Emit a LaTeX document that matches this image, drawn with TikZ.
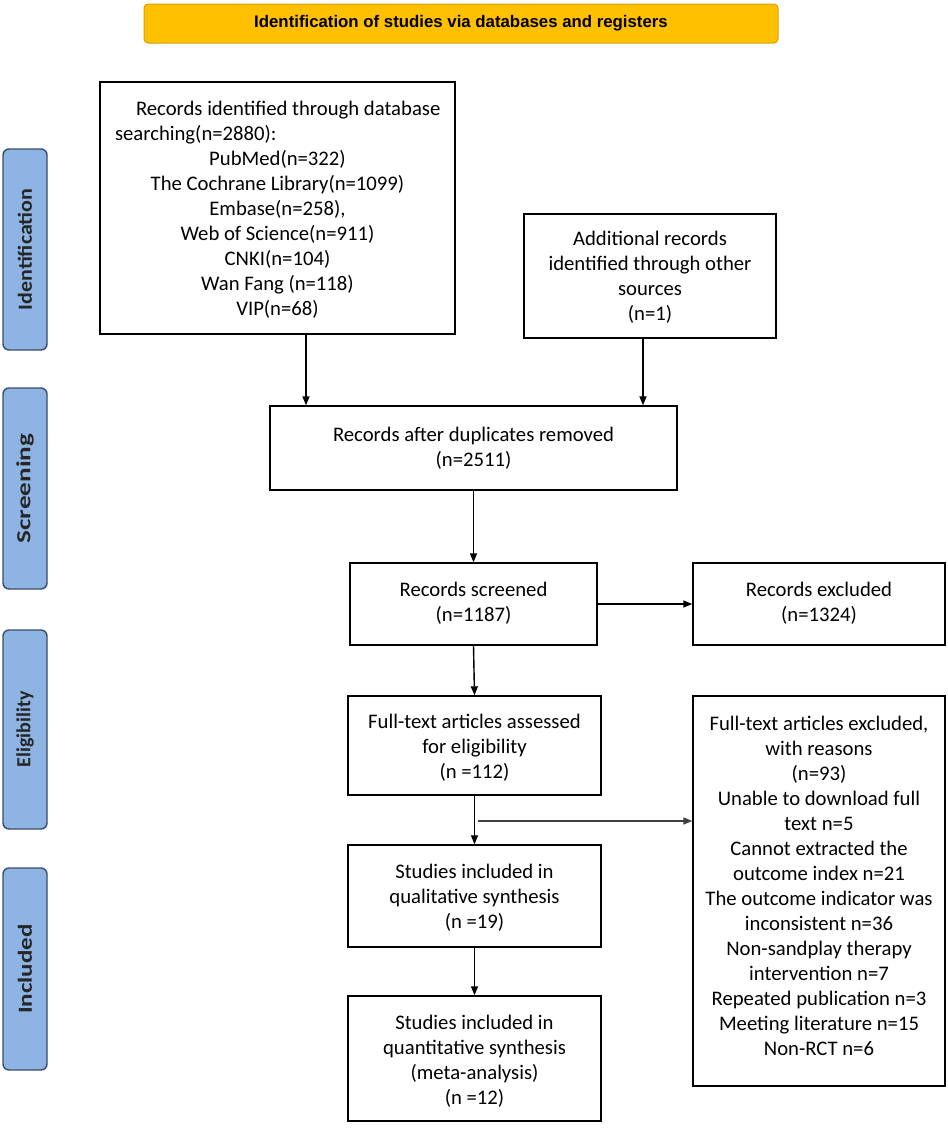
\documentclass[tikz,border=0pt]{standalone}
\usepackage{fontspec}
\setmainfont{Carlito}
\newfontfamily\arialfont{Liberation Sans}
\usetikzlibrary{arrows.meta,calc}
\definecolor{gold}{HTML}{FFC000}
\definecolor{goldline}{HTML}{D9A300}
\definecolor{sideblue}{HTML}{8DB4E2}
\definecolor{sideline}{HTML}{3A4E6B}
\begin{document}
\begin{tikzpicture}[x=1pt,y=-1pt,
  box/.style={draw=black,line width=1.4pt,fill=white,inner sep=0pt},
  txt/.style={align=center,font=\fontsize{20.7}{25}\selectfont,inner sep=0pt},
  side/.style={draw=sideline,line width=1.4pt,fill=sideblue,rounded corners=6pt,minimum width=44pt,inner sep=0pt},
  sidetxt/.style={rotate=90,font=\fontsize{20}{22}\selectfont\bfseries,text=black!85},
  arr/.style={line width=1.4pt,-{Triangle[length=9pt,width=7pt]}}]
\useasboundingbox (0,0) rectangle (948,1128);
% title
\node[draw=goldline,line width=1pt,fill=gold,rounded corners=4pt,minimum width=634pt,minimum height=39pt,inner sep=0pt,
  font=\arialfont\fontsize{16.8}{19}\selectfont\bfseries] (title) at (461,23.5) {Identification of studies via databases and registers};
% side labels
\node[side,minimum height=201pt] (s1) at (25,249.5) {};
\node[sidetxt,xscale=1.1] (s1t) at (s1) {Identification};
\node[side,minimum height=201pt] (s2) at (25,488.5) {};
\node[sidetxt,xscale=1.36] (s2t) at (s2) {Screening};
\node[side,minimum height=199pt] (s3) at (25,729.5) {};
\node[sidetxt] (s3t) at (s3) {Eligibility};
\node[side,minimum height=202pt] (s4) at (25,969) {};
\node[sidetxt,xscale=1.25] (s4t) at (s4) {Included};
% boxes
\node[box,minimum width=355pt,minimum height=252pt] (A) at (277.5,208) {};
\node[txt] (At) at (277.5,209.5) {%
  \makebox[325pt][l]{\hspace*{21pt}Records identified through database}\\
  \makebox[325pt][l]{searching(n=2880):}\\
  PubMed(n=322)\\
  The Cochrane Library(n=1099)\\
  Embase(n=258),\\
  Web of Science(n=911)\\
  CNKI(n=104)\\
  Wan Fang (n=118)\\
  VIP(n=68)};
\node[box,minimum width=252pt,minimum height=124pt] (B) at (650,276) {};
\node[txt] (Bt) at (650,277.5) {Additional records\\identified through other\\sources\\(n=1)};
\node[box,minimum width=407pt,minimum height=84pt] (C) at (473.5,448) {};
\node[txt] (Ct) at (473.5,448) {Records after duplicates removed\\(n=2511)};
\node[box,minimum width=247pt,minimum height=82pt] (D) at (473.5,604) {};
\node[txt] (Dt) at (473.5,603) {Records screened\\(n=1187)};
\node[box,minimum width=252pt,minimum height=82pt] (E) at (819,604) {};
\node[txt] (Et) at (819,603) {Records excluded\\(n=1324)};
\node[box,minimum width=253pt,minimum height=99pt] (F) at (474.5,745.5) {};
\node[txt] (Ft) at (474.5,748) {Full-text articles assessed\\for eligibility\\(n =112)};
\node[box,minimum width=252pt,minimum height=390pt] (G) at (819,891) {};
\node[txt] (Gt) at (819,885.5) {Full-text articles excluded,\\with reasons\\(n=93)\\Unable to download full\\text n=5\\Cannot extracted the\\outcome index n=21\\The outcome indicator was\\inconsistent n=36\\Non-sandplay therapy\\intervention n=7\\Repeated publication n=3\\Meeting literature n=15\\Non-RCT n=6};
\node[box,minimum width=253pt,minimum height=102pt] (H) at (474.5,896) {};
\node[txt] (Ht) at (474.5,897.5) {Studies included in\\qualitative synthesis\\(n =19)};
\node[box,minimum width=253pt,minimum height=125pt] (I) at (474.5,1058.5) {};
\node[txt] (It) at (474.5,1061) {Studies included in\\quantitative synthesis\\(meta-analysis)\\(n =12)};
% arrows
\draw[arr] ([xshift=28.5pt]A.south) -- ([xshift=28.5pt]A.south |- C.north);
\draw[arr] ([xshift=-7pt]B.south) -- ([xshift=-7pt]B.south |- C.north);
\draw[arr] (C.south) -- (D.north);
\draw[arr] (D.east) -- (E.west);
\draw[arr] (D.south) -- (F.north);
\draw[arr] (F.south) -- (H.north);
\draw[arr] (H.south) -- (I.north);
\coordinate (fork) at (478,821);
\draw[arr,draw=black!75] (fork) -- (fork -| G.west);
\end{tikzpicture}
\end{document}
